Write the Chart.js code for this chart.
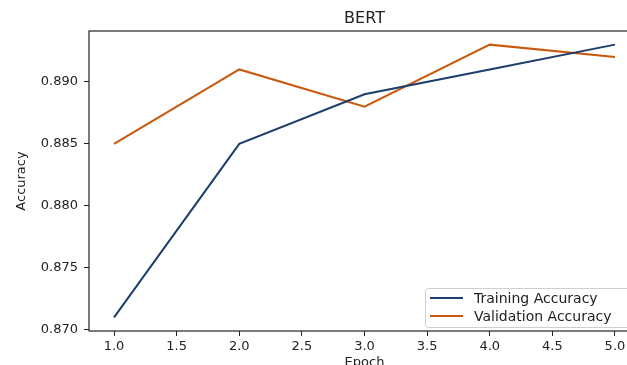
<!DOCTYPE html>
<html>
<head>
<meta charset="utf-8">
<script src="https://cdn.jsdelivr.net/npm/chart.js@4.4.1/dist/chart.umd.min.js"></script>
<style>
    html, body { margin: 0; padding: 0; background: #fff; }
    #wrap { width: 627px; height: 365px; overflow: hidden; position: relative; }
    canvas { display: block; }
</style>
</head>
<body>
<div id="wrap">
    <canvas id="graficoBert" width="660" height="372"></canvas>
</div>
<script>
// dados
const epocas = [1.0, 2.0, 3.0, 4.0, 5.0];
const acuraciaTreino = [0.871, 0.885, 0.889, 0.891, 0.893];
const acuraciaValidacao = [0.885, 0.891, 0.888, 0.893, 0.892];
const ticksX = [1.0, 1.5, 2.0, 2.5, 3.0, 3.5, 4.0, 4.5, 5.0];
const ticksY = [0.870, 0.875, 0.880, 0.885, 0.890];

const corTreino = '#1d3d6b';
const corValidacao = '#c9580c';
const fonte = "'DejaVu Sans', sans-serif";

function pontos(valores) {
    return epocas.map((x, i) => ({ x: x, y: valores[i] }));
}

// moldura em volta da area do grafico (estilo matplotlib)
const moldura = {
    id: 'moldura',
    afterDatasetsDraw(chart) {
        const a = chart.chartArea;
        const ctx = chart.ctx;
        ctx.save();
        ctx.strokeStyle = '#222';
        ctx.lineWidth = 1.2;
        ctx.strokeRect(a.left, a.top, a.right - a.left, a.bottom - a.top);
        ctx.restore();
    }
};

// legenda dentro do grafico, canto inferior direito
const legendaInterna = {
    id: 'legendaInterna',
    afterDraw(chart) {
        const ctx = chart.ctx;
        const x0 = 425, y0 = 288, w = 210, h = 39;
        ctx.save();
        ctx.fillStyle = 'rgba(255,255,255,0.85)';
        ctx.strokeStyle = '#cfcfcf';
        ctx.lineWidth = 1;
        ctx.beginPath();
        ctx.roundRect(x0 + 0.5, y0 + 0.5, w, h, 3);
        ctx.fill();
        ctx.stroke();
        ctx.font = '14px ' + fonte;
        ctx.textBaseline = 'middle';
        chart.data.datasets.forEach((ds, i) => {
            const yy = y0 + 10 + i * 18;
            ctx.strokeStyle = ds.borderColor;
            ctx.lineWidth = 2;
            ctx.beginPath();
            ctx.moveTo(x0 + 5, yy);
            ctx.lineTo(x0 + 38, yy);
            ctx.stroke();
            ctx.fillStyle = '#222';
            ctx.fillText(ds.label, x0 + 49, yy + 1);
        });
        ctx.restore();
    }
};

const ctx = document.getElementById('graficoBert').getContext('2d');
new Chart(ctx, {
    type: 'line',
    data: {
        datasets: [{
            label: 'Training Accuracy',
            data: pontos(acuraciaTreino),
            xAxisID: 'x',
            yAxisID: 'y',
            borderColor: corTreino,
            borderWidth: 2,
            pointRadius: 0,
            tension: 0
        }, {
            label: 'Validation Accuracy',
            data: pontos(acuraciaValidacao),
            xAxisID: 'x',
            yAxisID: 'y',
            borderColor: corValidacao,
            borderWidth: 2,
            pointRadius: 0,
            tension: 0
        }]
    },
    options: {
        responsive: false,
        animation: false,
        layout: { padding: { left: 0, right: 20, top: 0, bottom: 0 } },
        plugins: {
            legend: { display: false },
            tooltip: { enabled: false }
        },
        scales: {
            x: {
                type: 'linear',
                min: 0.8,
                max: 5.2,
                afterBuildTicks(scale) {
                    scale.ticks = ticksX.map(v => ({ value: v }));
                },
                afterFit(scale) { scale.height = 41; },
                grid: { drawOnChartArea: false, drawTicks: true, tickLength: 5, color: '#222' },
                border: { display: false },
                ticks: {
                    color: '#222',
                    font: { family: fonte, size: 13 },
                    padding: 3,
                    maxRotation: 0,
                    callback: v => v.toFixed(1)
                },
                title: {
                    display: true,
                    text: 'Epoch',
                    color: '#222',
                    font: { family: fonte, size: 13 },
                    padding: { top: 0, bottom: 2 }
                }
            },
            // eixo de cima so para o titulo ficar centrado na area do grafico
            topo: {
                type: 'linear',
                position: 'top',
                min: 0.8,
                max: 5.2,
                afterFit(scale) { scale.height = 31; },
                grid: { display: false },
                border: { display: false },
                ticks: { display: false },
                title: {
                    display: true,
                    text: 'BERT',
                    color: '#222',
                    font: { family: fonte, size: 16 },
                    padding: { top: 9, bottom: 0 }
                }
            },
            y: {
                min: 0.8699,
                max: 0.8941,
                afterBuildTicks(scale) {
                    scale.ticks = ticksY.map(v => ({ value: v }));
                },
                afterFit(scale) { scale.width = 89; },
                grid: { drawOnChartArea: false, drawTicks: true, tickLength: 5, color: '#222' },
                border: { display: false },
                ticks: {
                    color: '#222',
                    font: { family: fonte, size: 13 },
                    padding: 6,
                    callback: v => v.toFixed(3)
                },
                title: {
                    display: true,
                    text: 'Accuracy',
                    color: '#222',
                    font: { family: fonte, size: 13 },
                    padding: { top: 14, bottom: 0 }
                }
            }
        }
    },
    plugins: [moldura, legendaInterna]
});
</script>
</body>
</html>
